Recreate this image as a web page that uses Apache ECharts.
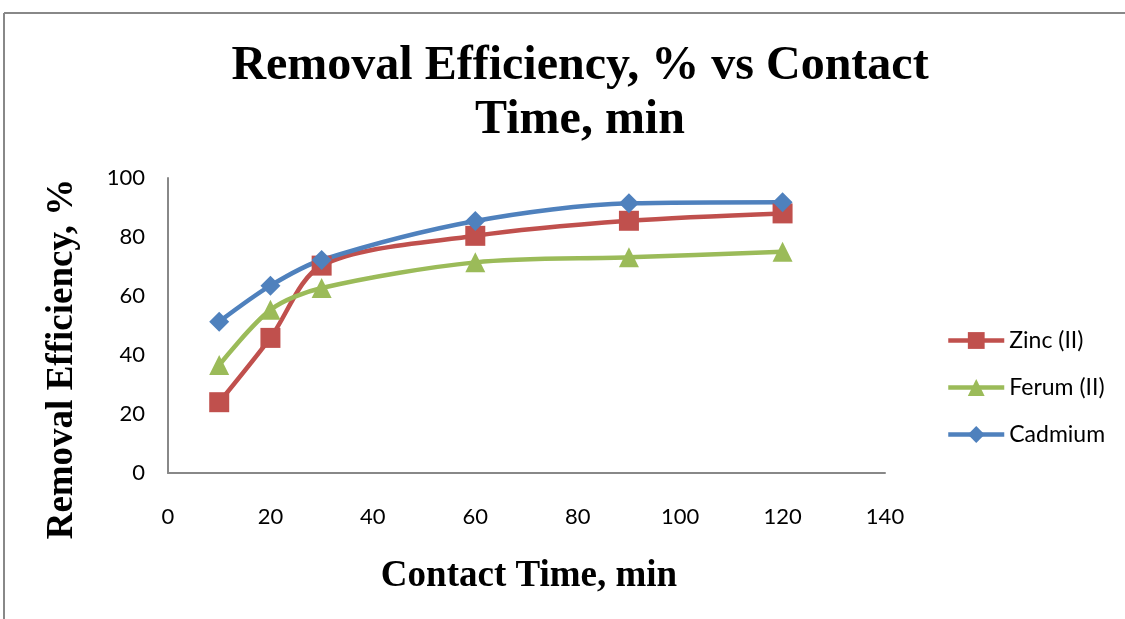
<!DOCTYPE html>
<html><head><meta charset="utf-8">
<script src="https://cdn.jsdelivr.net/npm/echarts@6/dist/echarts.min.js"></script>
<style>html,body{margin:0;padding:0;background:#fff}#c{width:1125px;height:619px}</style>
</head><body><div id="c"></div>
<script>
const contactTime = [10, 20, 30, 60, 90, 120];
const zinc = [24.0, 45.8, 70.3, 80.4, 85.5, 88.0];
const ferum = [36.6, 55.3, 62.7, 71.4, 73.1, 75.0];
const cadmium = [51.3, 63.5, 72.2, 85.4, 91.4, 91.8];
const seriesNames = ['Zinc (II)', 'Ferum (II)', 'Cadmium'];
const colors = ['#C0504D', '#9BBB59', '#4F81BD'];
const symbols = ['rect', 'triangle', 'diamond'];
const titleText = 'Removal Efficiency, % vs Contact\nTime, min';
const xName = 'Contact Time, min';
const yName = 'Removal Efficiency, %';

const chart = echarts.init(document.getElementById('c'), null, {renderer: 'canvas'});
const pairs = arr => contactTime.map((x, i) => [x, arr[i]]);
const datasets = [zinc, ferum, cadmium];
const serif = '"Liberation Serif", "Times New Roman", serif';
const tickFont = {fontFamily: 'Lato, "Open Sans", sans-serif', fontSize: 22, color: '#000'};
chart.setOption({
  animation: false,
  title: {
    text: titleText,
    left: 575, top: 35, textAlign: 'center',
    textStyle: {fontFamily: serif, fontWeight: 'bold', fontSize: 48, lineHeight: 54, color: '#000'}
  },
  graphic: [
    {type: 'line', shape: {x1: 4, y1: 13, x2: 1125, y2: 13}, style: {stroke: '#888', lineWidth: 2}},
    {type: 'line', shape: {x1: 4, y1: 13, x2: 4, y2: 619}, style: {stroke: '#888', lineWidth: 2}},
    {type: 'text', x: 529, y: 576, style: {text: xName, font: 'bold 37px ' + serif, fill: '#000', textAlign: 'center', textVerticalAlign: 'middle'}},
    {type: 'text', x: 62.5, y: 359, rotation: Math.PI / 2, style: {text: yName, font: 'bold 37px ' + serif, fill: '#000', textAlign: 'center', textVerticalAlign: 'middle'}}
  ],
  legend: {
    orient: 'vertical', left: 946, top: 329, padding: 0, itemWidth: 56, itemHeight: 21, itemGap: 24,
    textStyle: Object.assign({}, tickFont, {fontSize: 23, lineHeight: 21}),
    lineStyle: {width: 4.5},
    data: seriesNames
  },
  grid: {left: 168, right: 240, top: 178, bottom: 146},
  xAxis: {
    type: 'value', min: 0, max: 140, interval: 20,
    axisLine: {lineStyle: {color: '#888', width: 2}},
    axisTick: {show: false},
    splitLine: {show: false},
    axisLabel: Object.assign({margin: 33}, tickFont)
  },
  yAxis: {
    type: 'value', min: 0, max: 100, interval: 20,
    axisLine: {show: true, lineStyle: {color: '#888', width: 2}},
    axisTick: {show: false},
    splitLine: {show: false},
    axisLabel: Object.assign({margin: 23}, tickFont)
  },
  series: seriesNames.map((n, i) => ({
    name: n, type: 'line', smooth: 0.3,
    data: pairs(datasets[i]),
    symbol: symbols[i], symbolSize: 20,
    itemStyle: {color: colors[i]},
    lineStyle: {color: colors[i], width: 4.5}
  }))
});
</script></body></html>
